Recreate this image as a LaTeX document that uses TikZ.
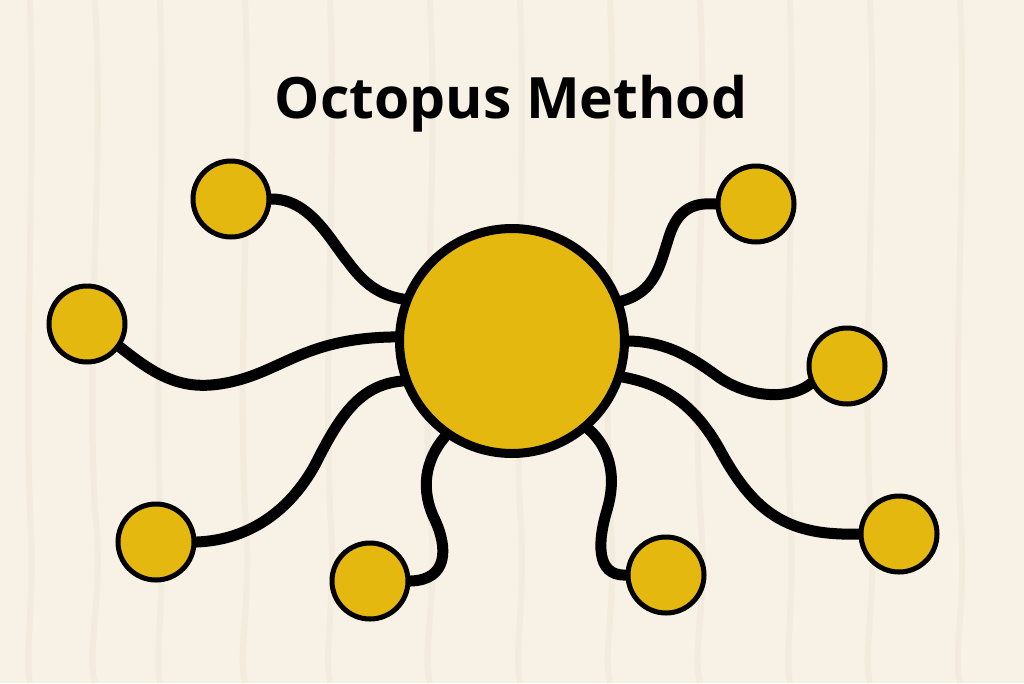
\documentclass[tikz,border=0pt]{standalone}
\usepackage{fontspec}
\setmainfont{Open Sans}
\usetikzlibrary{backgrounds}
\pgfdeclarelayer{woodlayer}
\pgfsetlayers{woodlayer,background,main}
\definecolor{wood}{HTML}{F7F1E6}
\definecolor{grain}{HTML}{EDE2D0}
\definecolor{gold}{HTML}{E5B80F}
\tikzset{
  body/.style={circle, fill=gold, draw=black, line width=9pt, minimum size=225pt, inner sep=0pt},
  sucker/.style={circle, fill=gold, draw=black, line width=5pt, minimum size=76pt, inner sep=0pt},
  arm/.style={draw=black, line width=11pt, line cap=round},
  title/.style={font=\fontsize{57}{60}\selectfont\bfseries, text=black, anchor=base, inner sep=0pt}
}
\begin{document}
\begin{tikzpicture}[x=1pt,y=-1pt]
\useasboundingbox (0,0) rectangle (1024,683);
\begin{pgfonlayer}{woodlayer}
\fill[wood] (0,0) rectangle (1024,683);
\foreach \gx/\amp in {30/6,95/9,160/5,245/8,330/7,430/9,520/6,610/8,700/9,790/6,870/8,960/7}{
  \draw[grain, line width=6pt, opacity=0.35]
    (\gx,0) .. controls (\gx+\amp,170) and (\gx-\amp,340) .. (\gx,510) .. controls (\gx+\amp,600) and (\gx-\amp,650) .. (\gx,683);
}
\end{pgfonlayer}
\node[title] (t) at (511,118) {Octopus Method};
\node[body] (c) at (512,341) {};
\node[sucker] (s1) at (231,199) {};
\node[sucker] (s2) at (87,324) {};
\node[sucker] (s3) at (156,542) {};
\node[sucker] (s4) at (370,581) {};
\node[sucker] (s5) at (666,575) {};
\node[sucker] (s6) at (899,534) {};
\node[sucker] (s7) at (847,366) {};
\node[sucker] (s8) at (756,204) {};
\begin{scope}[on background layer]
\draw[arm] (s1.center) -- (s1.east) .. controls (310,199) and (330,240) .. (348,262) .. controls (365,285) and (380,295) .. (c.159) -- (c.center);
\draw[arm] (s2.center) -- (s2.-35) .. controls (155,375) and (180,390) .. (220,384) .. controls (280,375) and (300,338) .. (c.178) -- (c.center);
\draw[arm] (s3.center) -- (s3.east) .. controls (250,540) and (290,510) .. (315,465) .. controls (340,415) and (360,385) .. (c.200) -- (c.center);
\draw[arm] (c.center) -- (c.235) .. controls (425,460) and (420,490) .. (435,520) .. controls (448,548) and (448,580) .. (s4.east) -- (s4.center);
\draw[arm] (c.center) -- (c.-49) .. controls (612,450) and (616,480) .. (607,510) .. controls (598,540) and (595,576) .. (s5.west) -- (s5.center);
\draw[arm] (c.center) -- (c.-18) .. controls (665,385) and (695,405) .. (720,450) .. controls (755,515) and (790,536) .. (s6.west) -- (s6.center);
\draw[arm] (c.center) -- (c.0) .. controls (670,342) and (695,360) .. (720,378) .. controls (750,398) and (790,400) .. (s7.206) -- (s7.center);
\draw[arm] (c.center) -- (c.20) .. controls (655,292) and (660,265) .. (668,240) .. controls (676,212) and (690,202) .. (s8.west) -- (s8.center);
\end{scope}
\end{tikzpicture}
\end{document}
